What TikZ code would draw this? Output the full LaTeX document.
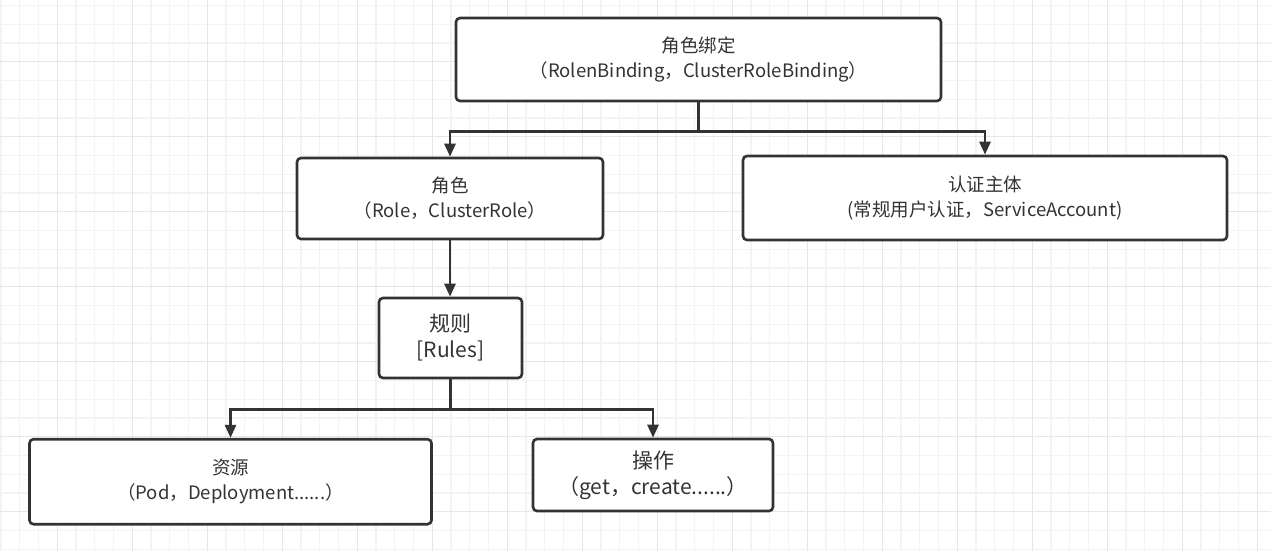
\documentclass[tikz,border=0pt]{standalone}
\usepackage{fontspec}
\setmainfont{Noto Sans CJK SC}
\usepackage{tikz}
\usetikzlibrary{positioning,arrows.meta,calc}
\definecolor{ink}{HTML}{333333}
\definecolor{gridminor}{HTML}{F3F3F3}
\definecolor{gridmajor}{HTML}{E6E6E6}
\tikzset{
    x=1pt,
    y=-1pt,
    box/.style = {
        draw=ink,
        shape=rectangle,
        rounded corners=4pt,
        line width=2.6pt,
        fill=white,
        text=ink,
        align=center,
        inner sep=0pt,
        font=\fontsize{18.5}{25}\selectfont
    },
    bigbox/.style = {
        box,
        font=\fontsize{21}{26}\selectfont
    },
    link/.style = {
        draw=ink,
        line width=2.6pt,
        ->
    },
    >={Triangle[length=13pt,width=11pt]},
}
\begin{document}
\begin{tikzpicture}
                \useasboundingbox (0,0) rectangle (1271,551);
                % background grid
                \foreach \gx in {1.05,19.8,...,1271} {\draw[gridminor, line width=1.2pt] (\gx,0) -- (\gx,551);}
                \foreach \gy in {5.45,24.2,...,551} {\draw[gridminor, line width=1.2pt] (0,\gy) -- (1271,\gy);}
                \foreach \gx in {57.3,132.3,...,1271} {\draw[gridmajor, line width=1.2pt] (\gx,0) -- (\gx,551);}
                \foreach \gy in {61.7,136.7,...,551} {\draw[gridmajor, line width=1.2pt] (0,\gy) -- (1271,\gy);}

                \node[box, minimum width=485pt, minimum height=83pt] (bind) at (698.5,59.5) {角色绑定\\（RolenBinding，ClusterRoleBinding）};
                \node[box, minimum width=306pt, minimum height=81pt] (role) at (450,198.5) {角色\\（Role，ClusterRole）};
                \node[box, minimum width=484pt, minimum height=84pt] (subj) at (985,198) {认证主体\\(常规用户认证，ServiceAccount)};
                \node[bigbox, minimum width=143pt, minimum height=80pt] (rules) at (450.5,338) {规则\\{[}Rules{]}};
                \node[box, minimum width=402pt, minimum height=85pt] (res) at (230.5,481.7) {资源\\（Pod，Deployment......）};
                \node[bigbox, minimum width=240pt, minimum height=72pt] (ops) at (653,475) {操作\\（get，create......）};

                \path[link] (bind.south) -- ++(0,29) -| (role.north);
                \path[link] (bind.south) -- ++(0,29) -| (subj.north);
                \path[link] (role) -- (role |- rules.north);
                \path[link] (rules.south) -- ++(0,30) -| (res.north);
                \path[link] (rules.south) -- ++(0,30) -| (ops.north);
            \end{tikzpicture}
\end{document}
